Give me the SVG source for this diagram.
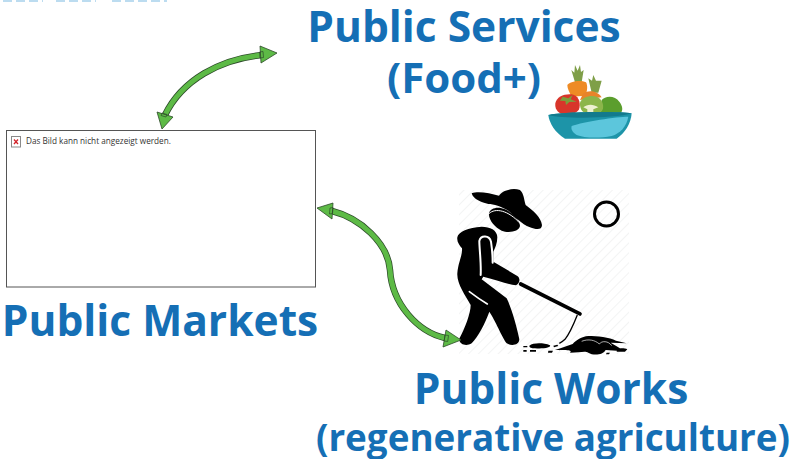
<svg xmlns="http://www.w3.org/2000/svg" width="794" height="459" viewBox="0 0 794 459">
<defs>
<style>
.t{font-family:"Open Sans","Noto Sans","DejaVu Sans",sans-serif;font-weight:700;fill:#156fb5;text-anchor:middle}
.conn{fill:none;stroke:#2d4a2a;stroke-width:6.500}
.conni{fill:none;stroke:#5dba46;stroke-width:5}
.head{fill:#5dba46;stroke:#2d4a2a;stroke-width:.8}
.tab{fill:none;stroke:#2d4a2a;stroke-width:.7}
.blk{fill:#000}
.wl{fill:none;stroke:#fff;stroke-linecap:round}
</style>
<pattern id="h" width="7" height="7" patternUnits="userSpaceOnUse" patternTransform="rotate(45)"><rect width="7" height="7" fill="#fff"/><rect width="1" height="7" fill="#f3f4f4"/></pattern>
</defs>
<rect width="794" height="459" fill="#fff"/>
<path d="M3 1h40M56 1h40M112 1h55" stroke="#bcdcf0" stroke-width="2" stroke-dasharray="9 4" fill="none"/>
<g id="node-services">
<text x="464" y="42" class="t" font-size="42.500">Public Services</text>
<text x="464" y="93" class="t" font-size="42">(Food+)</text>
<g id="bowl" transform="translate(530 50) scale(.3333)">
<path d="M124 60L133 68 135 45 143 62 150 45 153 66 161 60 155 97H135z" fill="#7f9f48"/>
<path d="M175 85L186 92 190 75 198 92 215 92 205 128H185z" fill="#7f9f48"/>
<path d="M112 105C118 95 150 88 168 97 174 107 172 125 165 137L125 140C118 128 112 115 112 105z" fill="#ee8b25"/>
<path d="M160 130C175 120 200 120 215 142L150 150z" fill="#e8842a"/>
<path d="M215 150C225 137 255 135 268 155 278 168 280 180 272 190L235 197 210 195z" fill="#5b9e2d"/>
<path d="M76 160C80 140 105 130 130 134 150 140 152 165 147 178 140 192 115 197 95 192 82 187 74 175 76 160z" fill="#d8352a"/>
<path d="M98 140L115 145 128 135 122 148 140 155 118 156 108 165 106 153 90 152z" fill="#7d9e3b"/>
<path d="M150 158C155 142 180 134 200 140 215 146 222 162 219 176 215 187 205 192 197 188H165C155 186 149 172 150 158z" fill="#8cb54b"/>
<path d="M160 172C172 162 190 162 205 172L190 178V195H172V178z" fill="#eef0d2"/>
<path d="M55 195C90 185 270 183 305 190 303 220 285 250 260 266H105C75 248 58 220 55 195z" fill="#1d94a8"/>
<path d="M55 195C90 185 270 183 305 190 260 205 100 208 55 195z" fill="#137a8d"/>
<path d="M125 228C160 215 260 200 295 200 290 230 270 250 245 258 205 266 160 263 140 255 128 248 122 238 125 228z" fill="#5cc6dc"/>
</g>
</g>
<g id="node-markets">
<rect x="6.500" y="130.500" width="309" height="156.500" fill="#fff" stroke="#555"/>
<rect x="11.500" y="136.500" width="9" height="10.500" fill="#fff" stroke="#8a8a8a"/>
<path d="M14 139.500l4 4.500M18 139.500l-4 4.500" stroke="#d2232a" stroke-width="1.300"/>
<text x="26" y="144" font-family="'Open Sans','Noto Sans',sans-serif" font-size="8.200" fill="#333">Das Bild kann nicht angezeigt werden.</text>
<text x="160" y="336" class="t" font-size="42.500">Public Markets</text>
</g>
<g id="node-works">
<rect x="459" y="190" width="170" height="164" fill="url(#h)"/>
<g id="farmer" transform="translate(440 180) scale(.3333)">
<path class="blk" d="M95 40C115 32 150 40 177 47 185 33 215 22 240 30 252 40 252 60 257 75 280 92 303 112 306 135 306 150 290 150 270 142 245 132 222 108 205 92 185 80 160 72 145 72 125 68 100 58 95 40z"/>
<path class="blk" d="M147 100C150 84 175 78 195 88 220 100 240 122 240 138 238 155 205 160 185 152 165 142 145 120 147 100z"/>
<path class="blk" d="M52 172C55 155 85 143 125 140 150 140 172 150 172 172 172 190 165 205 160 215V245L232 288C242 295 240 310 228 316 205 314 170 300 130 290L125 298 200 355C215 385 232 445 238 478 238 495 215 500 200 490 188 475 165 420 148 395 135 430 115 470 95 490 80 500 60 495 57 478 75 445 92 400 92 375 75 345 50 310 52 280 55 245 68 225 66 205 58 195 50 185 52 172z"/>
<path class="wl" stroke-width="6" d="M122 285C124 250 118 205 118 183 122 165 148 165 153 185 156 205 158 225 158 248"/>
<path class="wl" stroke-width="5" d="M88 335C105 348 125 362 142 372"/>
<path class="wl" stroke-width="3" d="M148 100C165 83 205 90 240 130"/>
<path d="M242 312L420 402" stroke="#000" stroke-width="11" stroke-linecap="round" fill="none"/>
<path d="M412 405C402 430 390 460 375 478 368 485 362 488 358 490" stroke="#000" stroke-width="4" fill="none"/>
<path class="blk" d="M268 497C280 488 310 488 330 496 335 503 310 507 285 505 275 504 268 503 268 497zM340 497L352 494 355 498 342 502zM250 498h12v4h-12zM250 510h10v5h-10zM270 510h18v5h-18zM325 512h14l-3 6h-12zM345 510C365 505 380 497 398 492 408 480 425 470 445 468 470 468 510 472 528 482L560 490 512 488 540 505 530 512 497 510C490 525 460 528 445 518 435 512 420 518 390 518 400 508 375 512 345 510zM532 507C540 504 555 504 562 508L555 515H530zM500 518h10l-3 5h-9z"/>
<path d="M425 484C445 476 465 480 478 492M478 492C485 482 505 482 515 497" fill="none" stroke="#fff" stroke-width="2"/>
</g>
<circle cx="606.500" cy="214" r="12" fill="none" stroke="#000" stroke-width="3"/>
<text x="551" y="404" class="t" font-size="42.500">Public Works</text>
<text x="553" y="451" class="t" font-size="36.800">(regenerative agriculture)</text>
</g>
<g id="connectors">
<path class="conn" d="M262 55C220 59 182 80 165 115"/>
<path class="conn" d="M332 211C360 218 388 243 390 270C392 304 418 332 445 338"/>
<path class="conni" d="M262 55C220 59 182 80 165 115"/>
<path class="conni" d="M332 211C360 218 388 243 390 270C392 304 418 332 445 338"/>
<path class="head" d="M260 46L277 53 261 63zM157 112L173 117 162 129zM333 203L317 208 332 219zM446 330L461 340 443 347z"/>
<path class="tab" d="M259.500 52l3.500-.5.500 6-3.500.5zM162 113l5 1.500-1 2.500-5-1.500zM330 208l3-.5-.5 6-3 .5zM445 335l3.500.5-.8 6-3.500-.5z"/>
</g>
</svg>
